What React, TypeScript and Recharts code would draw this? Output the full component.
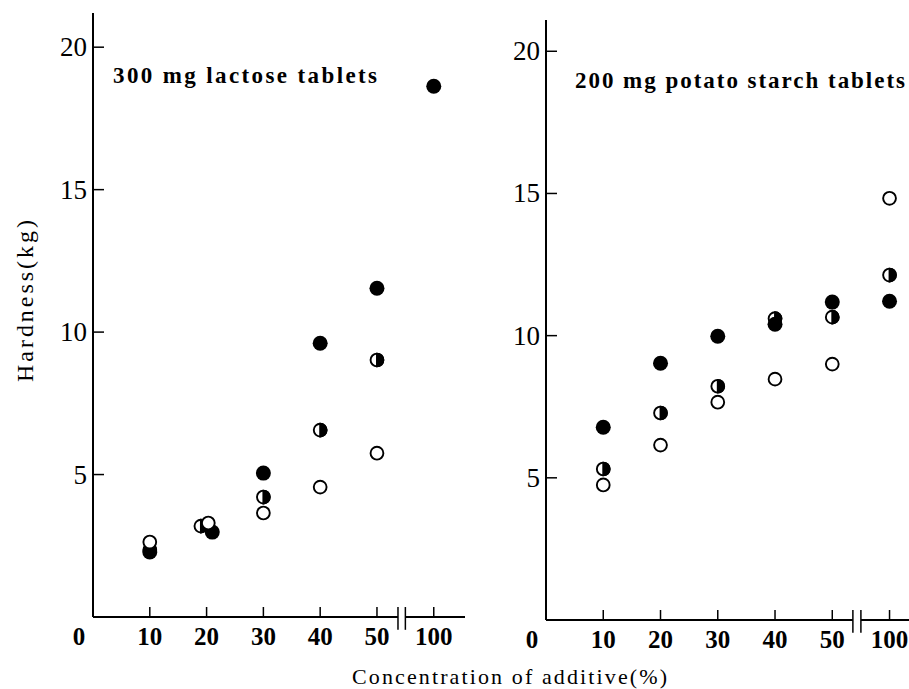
import React from 'react';
import { ScatterChart, Scatter, XAxis, YAxis, ReferenceLine } from 'recharts';

// x = concentration of additive (%), y = hardness (kg)
// the 100 % column sits after the axis break
const POS_100 = 60;

const LACTOSE_FILLED = [
    { x: 10, y: 2.28 }, { x: 21, y: 2.98 }, { x: 30, y: 5.05 },
    { x: 40, y: 9.61 }, { x: 50, y: 11.54 }, { x: 100, y: 18.63 },
];
const LACTOSE_HALF = [
    { x: 10, y: 2.35 }, { x: 19, y: 3.19 }, { x: 30, y: 4.21 },
    { x: 40, y: 6.56 }, { x: 50, y: 9.02 },
];
const LACTOSE_OPEN = [
    { x: 10, y: 2.63 }, { x: 20.3, y: 3.3 }, { x: 30, y: 3.65 },
    { x: 40, y: 4.56 }, { x: 50, y: 5.75 },
];

const STARCH_FILLED = [
    { x: 10, y: 6.78 }, { x: 20, y: 9.03 }, { x: 30, y: 9.98 },
    { x: 40, y: 10.4 }, { x: 50, y: 11.18 }, { x: 100, y: 11.21 },
];
const STARCH_HALF = [
    { x: 10, y: 5.31 }, { x: 20, y: 7.28 }, { x: 30, y: 8.22 },
    { x: 40, y: 10.6 }, { x: 50, y: 10.65 }, { x: 100, y: 12.13 },
];
const STARCH_OPEN = [
    { x: 10, y: 4.75 }, { x: 20, y: 6.15 }, { x: 30, y: 7.66 },
    { x: 40, y: 8.47 }, { x: 50, y: 9.0 }, { x: 100, y: 14.83 },
];

const X_TICKS = [0, 10, 20, 30, 40, 50, 100];
const Y_TICKS = [5, 10, 15, 20];

const FONT = "'Liberation Serif', 'Times New Roman', Times, 'DejaVu Serif', serif";

const pos = (v: number) => (v === 100 ? POS_100 : v);
const toPlot = (arr: { x: number; y: number }[]) => arr.map(d => ({ x: pos(d.x), y: d.y }));

const FilledDot = (p: any) => <circle cx={p.cx} cy={p.cy} r={7.5} fill="#000" />;
const OpenDot = (p: any) => <circle cx={p.cx} cy={p.cy} r={6.4} fill="#fff" stroke="#000" strokeWidth={1.9} />;
const HalfDot = (p: any) => {
    const r = 6.4;
    return (
        <g>
            <circle cx={p.cx} cy={p.cy} r={r} fill="#fff" stroke="#000" strokeWidth={1.9} />
            <path d={`M ${p.cx} ${p.cy - r} A ${r} ${r} 0 0 1 ${p.cx} ${p.cy + r} Z`} fill="#000" stroke="#000" strokeWidth={1.9} />
        </g>
    );
};

const XTick = (props: any) => {
    const { x, y, payload } = props;
    const v = payload.value;
    const label = v === POS_100 ? '100' : String(v);
    return (
        <g>
            {v !== 0 && <line x1={x} y1={y} x2={x} y2={y - 10} stroke="#000" strokeWidth={1.5} />}
            <text x={v === 0 ? x - 14 : x} y={y + 28} textAnchor="middle" style={{ fontFamily: FONT, fontSize: 25, fontWeight: 'bold' }} fill="#000">
                {label}
            </text>
        </g>
    );
};

const YTick = (props: any) => {
    const { x, y, payload } = props;
    return (
        <g>
            <line x1={x} y1={y} x2={x + 11} y2={y} stroke="#000" strokeWidth={1.5} />
            <text x={x - 6} y={y + 9} textAnchor="end" style={{ fontFamily: FONT, fontSize: 27 }} fill="#000">
                {payload.value}
            </text>
        </g>
    );
};

interface PanelProps {
    left: number;
    width: number;
    margin: { top: number; right: number; left: number; bottom: number };
    xMax: number;
    yMax: number;
    breakA: number;
    breakB: number;
    filled: { x: number; y: number }[];
    half: { x: number; y: number }[];
    open: { x: number; y: number }[];
}

const Panel = ({ left, width, margin, xMax, yMax, breakA, breakB, filled, half, open }: PanelProps) => (
    <div style={{ position: 'absolute', left, top: 0 }}>
        <ScatterChart width={width} height={689} margin={margin}>
            <XAxis
                type="number"
                dataKey="x"
                domain={[0, xMax]}
                ticks={X_TICKS.map(pos)}
                allowDataOverflow
                axisLine={false}
                tickLine={false}
                tickSize={0}
                tickMargin={0}
                height={40}
                tick={<XTick />}
                interval={0}
            />
            <YAxis
                type="number"
                dataKey="y"
                domain={[0, yMax]}
                ticks={Y_TICKS}
                allowDataOverflow
                axisLine={{ stroke: '#000', strokeWidth: 2 }}
                tickLine={false}
                tickSize={0}
                tickMargin={0}
                width={60}
                tick={<YTick />}
                interval={0}
            />
            {/* x axis line with break */}
            <ReferenceLine segment={[{ x: 0, y: 0 }, { x: breakA, y: 0 }]} stroke="#000" strokeWidth={2} ifOverflow="visible" />
            <ReferenceLine segment={[{ x: breakB, y: 0 }, { x: xMax, y: 0 }]} stroke="#000" strokeWidth={2} ifOverflow="visible" />
            <ReferenceLine segment={[{ x: breakA, y: -0.45 }, { x: breakA, y: 0.35 }]} stroke="#000" strokeWidth={1.5} ifOverflow="visible" />
            <ReferenceLine segment={[{ x: breakB, y: -0.45 }, { x: breakB, y: 0.35 }]} stroke="#000" strokeWidth={1.5} ifOverflow="visible" />

            <Scatter data={toPlot(half)} shape={HalfDot} isAnimationActive={false} />
            <Scatter data={toPlot(filled)} shape={FilledDot} isAnimationActive={false} />
            <Scatter data={toPlot(open)} shape={OpenDot} isAnimationActive={false} />
        </ScatterChart>
    </div>
);

export default function App() {
    const txt = { fontFamily: FONT };
    return (
        <div style={{ position: 'absolute', left: 0, top: 0, width: 909, height: 689, background: '#fff', overflow: 'hidden' }}>
            <Panel
                left={0}
                width={480}
                margin={{ top: 13, right: 15, left: 33, bottom: 32 }}
                xMax={65.5}
                yMax={21.2}
                breakA={53.7}
                breakB={55}
                filled={LACTOSE_FILLED}
                half={LACTOSE_HALF}
                open={LACTOSE_OPEN}
            />
            <Panel
                left={480}
                width={429}
                margin={{ top: 20, right: 0, left: 6, bottom: 29 }}
                xMax={63.4}
                yMax={21.1}
                breakA={53.6}
                breakB={55}
                filled={STARCH_FILLED}
                half={STARCH_HALF}
                open={STARCH_OPEN}
            />
            <svg width={909} height={689} style={{ position: 'absolute', left: 0, top: 0, pointerEvents: 'none' }}>
                <text x={113} y={83} style={{ ...txt, fontSize: 23, fontWeight: 'bold' }} textLength={264} lengthAdjust="spacing">
                    300 mg lactose tablets
                </text>
                <text x={575} y={88} style={{ ...txt, fontSize: 23, fontWeight: 'bold' }} textLength={330} lengthAdjust="spacing">
                    200 mg potato starch tablets
                </text>
                <text transform="translate(33, 301) rotate(-90)" textAnchor="middle" style={{ ...txt, fontSize: 24 }} textLength={162} lengthAdjust="spacing">
                    Hardness(kg)
                </text>
                <text x={352} y={684} style={{ ...txt, fontSize: 22 }} textLength={315} lengthAdjust="spacing">
                    Concentration of additive(%)
                </text>
            </svg>
        </div>
    );
}
